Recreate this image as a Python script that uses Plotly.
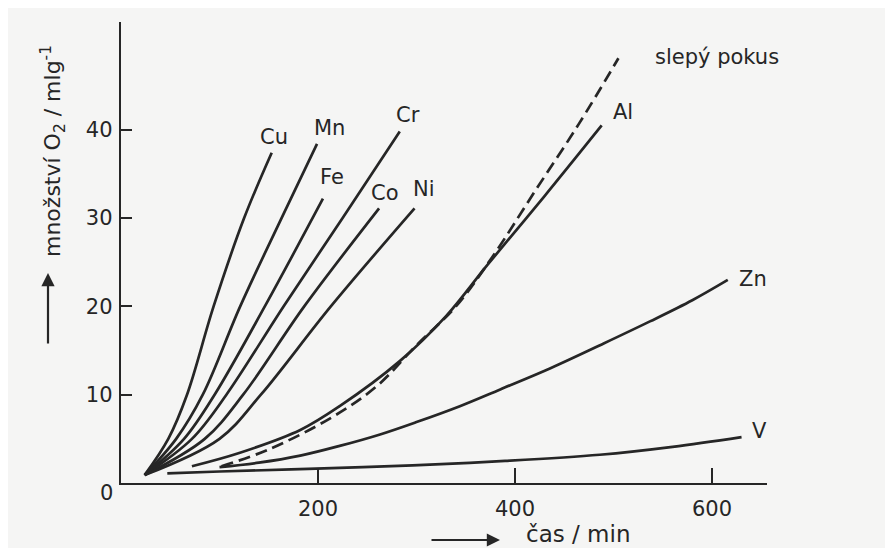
import plotly.graph_objects as go

# ---- data ----
cu_x = [24, 48, 67, 94, 125, 153]
cu_y = [0.9, 5, 10, 20, 30, 37.4]
mn_x = [24, 56, 83, 121, 163, 199]
mn_y = [0.9, 5, 10, 20, 30, 38.4]
fe_x = [24, 64, 95, 146, 205]
fe_y = [0.9, 5, 10, 20, 32.2]
cr_x = [24, 72, 107, 165, 225, 283]
cr_y = [0.9, 5, 10, 20, 30, 39.8]
co_x = [24, 85, 124, 186, 262]
co_y = [0.9, 5, 10, 20, 31.1]
ni_x = [24, 100, 142, 213, 298]
ni_y = [0.9, 5, 10, 20, 31.1]
al_x = [72, 120, 182, 222, 283, 330, 372, 430, 488]
al_y = [1.9, 3.4, 6.0, 8.7, 13.8, 18.9, 24.7, 32.5, 40.5]
blank_x = [102, 150, 215, 260, 300, 340, 377, 420, 465, 505]
blank_y = [1.9, 3.8, 7.5, 11.0, 15.6, 20.0, 25.6, 33.0, 40.7, 48.1]
zn_x = [100, 140, 182, 222, 263, 300, 344, 385, 436, 490, 537, 580, 616]
zn_y = [1.8, 2.3, 3.1, 4.2, 5.5, 6.9, 8.7, 10.6, 13.0, 15.8, 18.3, 20.7, 23.0]
v_x = [47, 100, 190, 296, 390, 486, 560, 630]
v_y = [1.1, 1.3, 1.6, 2.0, 2.5, 3.2, 4.1, 5.2]

x_ticks = [200, 400, 600]
y_ticks = [10, 20, 30, 40]

# label text, series, pixel shift (dx, dy), anchor, dash
series = [
    ("Cu", cu_x, cu_y, 2, 16, "center", "solid"),
    ("Mn", mn_x, mn_y, 12, 16, "center", "solid"),
    ("Fe", fe_x, fe_y, 9, 22, "center", "solid"),
    ("Cr", cr_x, cr_y, 8, 17, "center", "solid"),
    ("Co", co_x, co_y, 6, 15, "center", "solid"),
    ("Ni", ni_x, ni_y, 9, 19, "center", "solid"),
    ("Al", al_x, al_y, 21, 13, "center", "solid"),
    ("slepý pokus", blank_x, blank_y, 35, 1, "left", "12px,6px"),
    ("Zn", zn_x, zn_y, 9, 1, "left", "solid"),
    ("V", v_x, v_y, 8, 6, "left", "solid"),
]

INK = "#262626"
FONT = "DejaVu Sans"
BG = "#f5f5f4"

# page body adds an 8 px margin; the figure is sized/positioned to compensate
OFF = 8
W, H = 893 - OFF, 548 - OFF
L, R, T, B = 121 - OFF, 767 - OFF, 22 - OFF, 483 - OFF
pw, ph = R - L, B - T


def px(xp):  # reference-window pixel x -> paper x
    return (xp - OFF - L) / pw


def py(yp):  # reference-window pixel y -> paper y
    return (B - (yp - OFF)) / ph


fig = go.Figure()
annotations = []
for name, xs, ys, dx, dy, anchor, dash in series:
    fig.add_trace(go.Scatter(
        x=xs, y=ys, mode="lines", name=name,
        line=dict(color=INK, width=2.7, shape="spline", smoothing=1.0, dash=dash),
        showlegend=False, hoverinfo="skip"))
    annotations.append(dict(
        x=xs[-1], y=ys[-1], xref="x", yref="y", text=name, showarrow=False,
        xanchor=anchor, yanchor="middle", xshift=dx, yshift=dy,
        font=dict(family=FONT, size=21, color=INK)))

# "0" label at the origin
annotations.append(dict(x=0, y=0, xref="x", yref="y", text="0", showarrow=False,
                        xanchor="center", yanchor="middle", xshift=-15, yshift=-10,
                        font=dict(family=FONT, size=21, color=INK)))
# axis titles with arrows
annotations.append(dict(x=px(53), y=py(151), xref="paper", yref="paper",
                        text="množství O<sub>2</sub> / mlg<sup>-1</sup>", textangle=-90,
                        showarrow=False, xanchor="center", yanchor="middle",
                        font=dict(family=FONT, size=22, color=INK)))
annotations.append(dict(x=px(48), y=py(273), xref="paper", yref="paper", text="",
                        showarrow=True, ax=0, ay=72, arrowhead=2, arrowsize=1.2,
                        arrowwidth=2.2, arrowcolor=INK))
annotations.append(dict(x=px(578), y=py(534), xref="paper", yref="paper",
                        text="čas / min", showarrow=False, xanchor="center",
                        yanchor="middle", font=dict(family=FONT, size=23, color=INK)))
annotations.append(dict(x=px(500), y=py(540), xref="paper", yref="paper", text="",
                        showarrow=True, ax=-70, ay=0, arrowhead=2, arrowsize=1.2,
                        arrowwidth=2.2, arrowcolor=INK))

x_max = pw / 0.985
y_max = ph / 8.83

fig.update_layout(
    width=W, height=H,
    margin=dict(l=L, r=W - R, t=T, b=H - B, pad=0),
    paper_bgcolor=BG, plot_bgcolor=BG,
    annotations=annotations,
    xaxis=dict(range=[0, x_max], showgrid=False, zeroline=False, showline=True,
               linecolor=INK, linewidth=2.4, ticks="inside", ticklen=15, tickwidth=2,
               tickcolor=INK, tickvals=x_ticks, ticktext=[str(v) for v in x_ticks],
               ticklabelstandoff=6,
               tickfont=dict(family=FONT, size=21, color=INK)),
    yaxis=dict(range=[0, y_max], showgrid=False, zeroline=False, showline=True,
               linecolor=INK, linewidth=2.4, ticks="inside", ticklen=11, tickwidth=2,
               tickcolor=INK, tickvals=y_ticks, ticktext=[str(v) for v in y_ticks],
               ticklabelstandoff=2,
               tickfont=dict(family=FONT, size=21, color=INK)),
)

fig.write_html("out.html")
